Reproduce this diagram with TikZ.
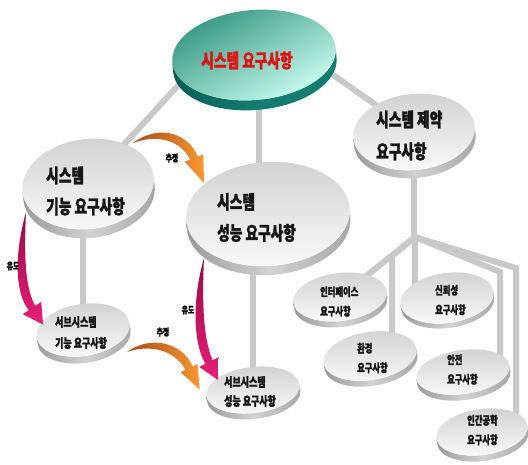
\documentclass[tikz,border=0pt]{standalone}
\usepackage{fontspec}
\setmainfont{Noto Sans CJK KR}[FakeStretch=0.72, FakeBold=1.6]
\usetikzlibrary{shapes.geometric,calc}
\pgfdeclarelayer{bg}
\pgfsetlayers{bg,main}
\definecolor{tealA}{RGB}{52,150,128}
\definecolor{tealB}{RGB}{205,255,242}
\definecolor{tealD}{RGB}{8,92,84}
\definecolor{tealM}{RGB}{20,125,112}
\definecolor{orD}{RGB}{165,75,20}
\definecolor{orL}{RGB}{248,152,50}
\definecolor{mgD}{RGB}{150,10,70}
\definecolor{mgL}{RGB}{232,30,120}
\definecolor{txtc}{RGB}{22,22,22}
\definecolor{redt}{RGB}{220,20,20}
\newcommand{\mkdisc}[8]{%
  \begin{scope}[rotate around={#7:(#2,#3)}]
    \shade[#8side] (#2-#4,#3) -- (#2-#4,#3+#6)
      arc[start angle=180,end angle=0,x radius=#4,y radius=#5]
      -- (#2+#4,#3)
      arc[start angle=0,end angle=180,x radius=#4,y radius=#5] -- cycle;
    \node[#8face, minimum width=#4*2pt, minimum height=#5*2pt] (#1) at (#2,#3) {};
  \end{scope}}
\newcommand{\fntL}{\fontsize{19}{31}\selectfont\bfseries}
\newcommand{\fntT}{\fontsize{11.5}{19.5}\selectfont\bfseries}
\newcommand{\fntX}{\fontsize{9.5}{11}\selectfont\bfseries}
\tikzset{
  grayface/.style={ellipse, inner sep=0pt, transform shape, top color=gray!36, bottom color=gray!4},
  grayside/.style={left color=gray!80, right color=gray!70, middle color=gray!35},
  tealface/.style={ellipse, inner sep=0pt, transform shape, top color=tealA, bottom color=tealB, shading angle=30},
  tealside/.style={left color=tealD, right color=tealM, middle color=tealM},
  conn/.style={line width=6pt, draw=gray!42},
  txt/.style={anchor=west, align=left, inner sep=0pt, text=txtc},
  lbl/.style={inner sep=0pt, text=black},
}
\begin{document}
\begin{tikzpicture}[x=1pt,y=-1pt]
\useasboundingbox (0,0) rectangle (528,464);
% discs
\mkdisc{top}{254}{55}{82}{45}{10}{5}{teal}
\mkdisc{left}{88}{184}{66}{45}{9}{7}{gray}
\mkdisc{mid}{268}{214}{82}{52}{9}{4}{gray}
\mkdisc{right}{414}{132}{61}{38}{8}{6}{gray}
\mkdisc{sfunc}{83}{330}{47}{26}{7}{9}{gray}
\mkdisc{sperf}{253}{390}{47}{23}{6}{7}{gray}
\mkdisc{iface}{340}{297}{47}{24}{6}{7}{gray}
\mkdisc{rel}{447}{298}{47}{25}{5}{8}{gray}
\mkdisc{env}{370}{356}{47}{24}{6}{9}{gray}
\mkdisc{safe}{463}{372}{47}{22}{6}{8}{gray}
\mkdisc{ergo}{482}{432}{46}{23}{6}{8}{gray}
% connector points
\coordinate (tl) at (183,80);
\coordinate (tr) at (305,55);
\coordinate (J) at (415,237);
\coordinate (Jenv) at (392,256);
\coordinate (Jsafe) at (500,272);
\coordinate (Jergo) at (516,268);
\begin{pgfonlayer}{bg}
  \draw[conn] (left.center) -- (tl);
  \draw[conn] (tr) -- (right.center);
  \draw[conn] ([xshift=5pt]top.center) -- ([xshift=5pt]top.center |- mid.center);
  \draw[conn] (sfunc.center) -- (sfunc.center |- left.center);
  \draw[conn] (sperf.center) -- (sperf.center |- mid.center);
  \draw[conn] (right.center) -- (right.center |- J) -- (J);
  \draw[conn] (J) -- (iface.center);
  \draw[conn] (J) -- (Jenv) -- (Jenv |- env.center);
  \draw[conn] (J) -- (J |- rel.center);
  \draw[conn] (J) -- (Jsafe) -- (Jsafe |- safe.center);
  \draw[conn] (J) -- (Jergo) -- (Jergo |- ergo.center);
\end{pgfonlayer}
% texts
\node[inner sep=0pt, text=redt, font=\fntL] (top-t) at (247,60.5) {시스템 요구사항};
\node[txt, font=\fntL] (left-t) at (46,191) {시스템\\기능 요구사항};
\node[txt, font=\fntL] (mid-t) at (217,217.5) {시스템\\성능 요구사항};
\node[txt, font={\fontsize{19}{32}\selectfont\bfseries}] (right-t) at (376,135.5) {시스템 제약\\요구사항};
\node[txt, font={\fontsize{12.5}{21}\selectfont\bfseries}] (sfunc-t) at (55,332.5) {서브시스템\\기능 요구사항};
\node[txt, font={\fontsize{12.5}{19}\selectfont\bfseries}] (sperf-t) at (224,391.5) {서브시스템\\성능 요구사항};
\node[txt, font=\fntT] (iface-t) at (320,301.5) {인터페이스\\요구사항};
\node[txt, font=\fntT] (rel-t) at (435,300) {신뢰성\\요구사항};
\node[txt, font=\fntT] (env-t) at (357,358) {환경\\요구사항};
\node[txt, font=\fntT] (safe-t) at (447,369.5) {안전\\요구사항};
\node[txt, font=\fntT] (ergo-t) at (467,430) {인간공학\\요구사항};
% arrows
\shade[left color=orD, right color=orL]
  (133,143) .. controls (160,123) and (189,134) .. (197.7,156.5)
  -- (203.3,154.3) -- (204,183) -- (184.7,161.7) -- (190.3,159.5)
  .. controls (181,142) and (160,133) .. (133,143) -- cycle;
\shade[left color=orD, right color=orL]
  (127,352) .. controls (150,335) and (182,342) .. (192.6,366.2)
  -- (197.5,363.8) -- (199.7,389.5) -- (180.5,372.2) -- (185.4,369.8)
  .. controls (175,350) and (150,344) .. (127,352) -- cycle;
\shade[top color=mgD, bottom color=mgL]
  (26,212) .. controls (14,255) and (15,293) .. (28.7,310.2)
  -- (22.8,314.1) -- (43.1,324.6) -- (41.2,301.9) -- (35.3,305.8)
  .. controls (25,288) and (24,255) .. (26,212) -- cycle;
\shade[top color=mgD, bottom color=mgL]
  (204,258) .. controls (192,300) and (193,343) .. (205.4,363.8)
  -- (199.2,366.9) -- (217.9,379.9) -- (218.8,357.1) -- (212.6,360.2)
  .. controls (203,338) and (202,300) .. (204,258) -- cycle;
% arrow labels
\node[lbl, font=\fntX] (est1) at (172,158) {추정};
\node[lbl, font=\fntX] (est2) at (163,332) {추정};
\node[lbl, font=\fntX] (ind1) at (13,266) {유도};
\node[lbl, font=\fntX] (ind2) at (188,310) {유도};
\end{tikzpicture}
\end{document}
